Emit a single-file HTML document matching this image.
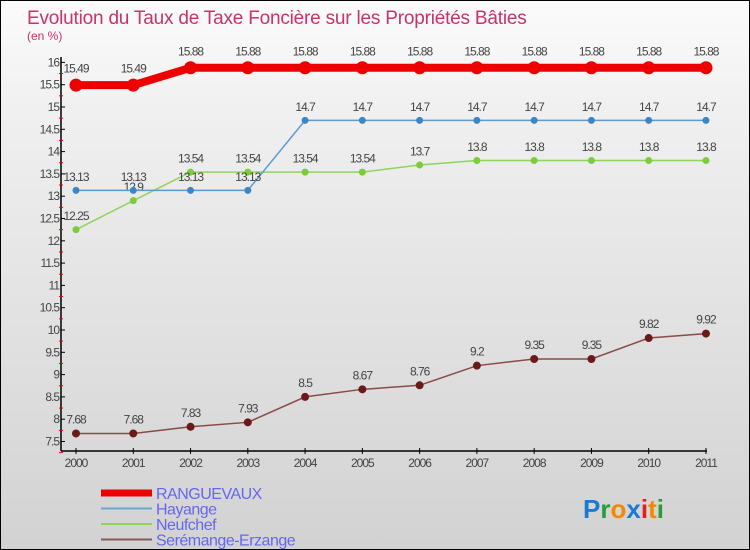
<!DOCTYPE html>
<html><head><meta charset="utf-8"><style>
body{margin:0}
#c{width:750px;height:550px;position:relative;box-sizing:border-box;border:1px solid #000;background:linear-gradient(#fbfbfb,#f0f0f0 20%,#d2d2d2);overflow:hidden;font-family:"Liberation Sans",sans-serif}
svg{position:absolute;left:0;top:0}
</style></head><body>
<div id="c">
<svg id="s" width="750" height="550">
<text x="26" y="23" font-size="19" fill="#c8336a" letter-spacing="-0.2">Evolution du Taux de Taxe Foncière sur les Propriétés Bâties</text>
<text x="26" y="39" font-size="12" fill="#c8336a">(en %)</text>
</svg>
</div>
<script>
const years=[2000,2001,2002,2003,2004,2005,2006,2007,2008,2009,2010,2011];
const ranguevaux=[15.49,15.49,15.88,15.88,15.88,15.88,15.88,15.88,15.88,15.88,15.88,15.88];
const hayange=[13.13,13.13,13.13,13.13,14.7,14.7,14.7,14.7,14.7,14.7,14.7,14.7];
const neufchef=[12.25,12.9,13.54,13.54,13.54,13.54,13.7,13.8,13.8,13.8,13.8,13.8];
const seremange=[7.68,7.68,7.83,7.93,8.5,8.67,8.76,9.2,9.35,9.35,9.82,9.92];
const yTicks=[7.5,8,8.5,9,9.5,10,10.5,11,11.5,12,12.5,13,13.5,14,14.5,15,15.5,16];
const s=document.getElementById('s');const NS='http://www.w3.org/2000/svg';
const X=i=>75+i*57.27;const Y=v=>440.5-(v-7.5)*44.6;
function mk(t,a,p){const e=document.createElementNS(NS,t);for(const k in a)e.setAttribute(k,a[k]);(p||s).appendChild(e);return e;}
function fmt(v){return String(v);}
let ax=mk('line',{x1:60,y1:56,x2:60,y2:450,stroke:'#000','stroke-width':1.5});

let bx=mk('line',{x1:60,y1:450,x2:706,y2:450,stroke:'#000','stroke-width':1.5});

yTicks.forEach(v=>{const y=Y(v);
 mk('line',{x1:60,y1:y,x2:64,y2:y,stroke:'#000'});
 mk('line',{x1:58,y1:y+11.15,x2:62,y2:y+11.15,stroke:'#e00'});
 const t=mk('text',{x:58,y:y+4,'font-size':12,'text-anchor':'end',fill:'#444','letter-spacing':'-1'});t.textContent=fmt(v);
 });
years.forEach((yr,i)=>{const x=X(i);mk('line',{x1:x,y1:447,x2:x,y2:453,stroke:'#000'});
 const t=mk('text',{x:x,y:466,'font-size':12,'text-anchor':'middle',fill:'#444','letter-spacing':'-1'});t.textContent=yr;
 });
function series(d,col,w,r,name,dotcol){
 const p=mk('polyline',{points:d.map((v,i)=>X(i)+','+Y(v)).join(' '),fill:'none',stroke:col,'stroke-width':w});
 
 d.forEach((v,i)=>{const c=mk('circle',{cx:X(i),cy:Y(v),r:r,fill:dotcol});
  
  const t=mk('text',{x:X(i),y:Y(v)-(r+6),'font-size':12,'text-anchor':'middle',fill:'#444','letter-spacing':'-1'});t.textContent=fmt(v);
  });
}
series(seremange,'#8a4a4a',1.5,4,'seremange','#6b1a1a');
series(neufchef,'#8fd45a',1.5,3.5,'neufchef','#7ccc3c');
series(hayange,'#5b9bd0',1.5,3.5,'hayange','#3d86c6');
series(ranguevaux,'#ee0000',8,6.5,'ranguevaux','#ee0000');
const leg=[['RANGUEVAUX','#ee0000',7],['Hayange','#6fa6cf',2],['Neufchef','#8fd45a',2],['Serémange-Erzange','#8a5a5a',2]];
leg.forEach((l,i)=>{const y=492+i*15.5;
 const ln=mk('line',{x1:100,y1:y,x2:151,y2:y,stroke:l[1],'stroke-width':l[2]});
 
 const t=mk('text',{x:155,y:y+6,'font-size':16,fill:'#6666ee','letter-spacing':'-0.5'});t.textContent=l[0];
 });
const g=mk('text',{x:582,y:517,'font-size':26,'font-weight':'bold','font-family':'"Liberation Sans",sans-serif'});

[['P','#1a7ad4'],['r','#2a9a3a'],['o','#f08a00'],['x','#1a7ad4'],['i','#e02020'],['t','#f08a00'],['i','#2a9a3a']].forEach(a=>{const sp=mk('tspan',{fill:a[1]},g);sp.textContent=a[0];});
</script>
</body></html>
